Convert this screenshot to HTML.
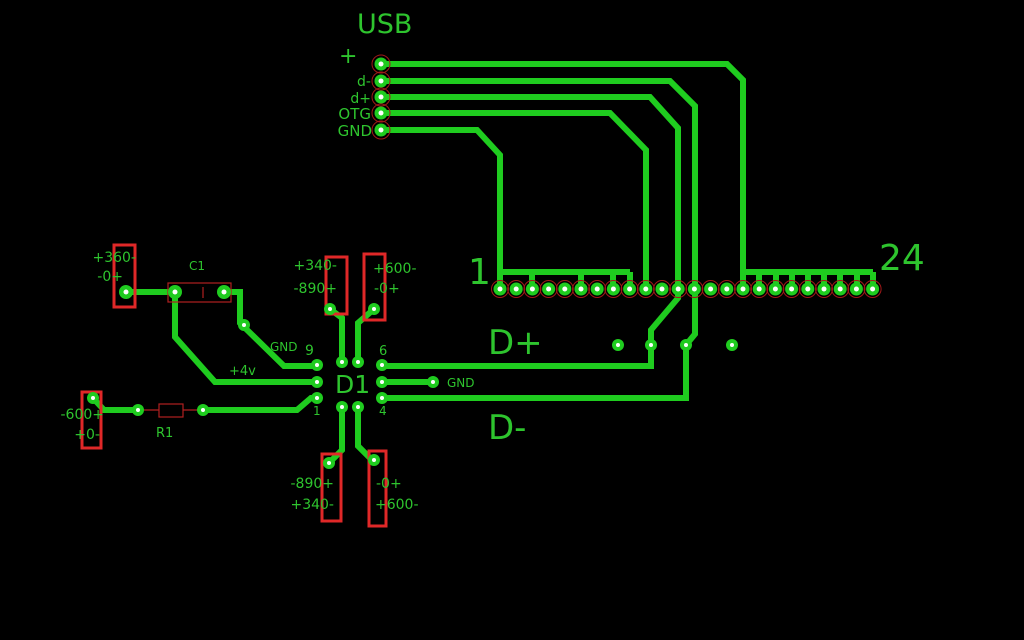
<!DOCTYPE html>
<html><head><meta charset="utf-8"><style>
html,body{margin:0;padding:0;background:#000;width:1024px;height:640px;overflow:hidden}
svg{display:block}
text{font-family:"DejaVu Sans","Liberation Sans",sans-serif;fill:#2ec42e}
</style></head><body>
<svg width="1024" height="640" viewBox="0 0 1024 640" xmlns="http://www.w3.org/2000/svg">
<rect width="1024" height="640" fill="#000"/>
<g fill="none" stroke="#1fcc1f" stroke-width="6" stroke-linejoin="miter" stroke-linecap="butt">
<!-- USB traces -->
<polyline points="381,64 727,64 743,80 743,272"/>
<polyline points="381,81 670,81 695,106 695,334 686,345 686,398 381,398"/>
<polyline points="381,97 650,97 678,128 678,298 651,330 651,366 381,366"/>
<polyline points="381,113 610,113 646,150 646,289"/>
<polyline points="381,130 477,130 500,155 500,272"/>
<!-- buses -->
<polyline points="500,272 630,272"/>
<polyline points="743,272 873,272"/>
<path d="M500,272V289M532,272V289M581,272V289M613,272V289M630,272V289"/>
<path d="M743,272V289M759,272V289M776,272V289M792,272V289M808,272V289M824,272V289M840,272V289M857,272V289M873,272V289"/>
<!-- left circuit -->
<polyline points="126,292 175,292"/>
<polyline points="224,292 240,292 240,323 284,366 317,366"/>
<polyline points="175,292 175,337 215,382 317,382"/>
<polyline points="93,398 104,410 138,410"/>
<polyline points="203,410 297,410 311,398 317,398"/>
<polyline points="330,309 342,318 342,362"/>
<polyline points="374,309 358,323 358,362"/>
<polyline points="342,407 342,450 329,463"/>
<polyline points="358,407 358,446 372,460"/>
<polyline points="381,382 433,382"/>
</g>
<!-- component outlines -->
<g fill="none" stroke="#b02020" stroke-width="1.2">
<rect x="168" y="283" width="63" height="19"/>
<line x1="203" y1="287" x2="203" y2="298"/>
<rect x="159" y="404" width="24" height="13"/>
<line x1="138" y1="410" x2="159" y2="410"/><line x1="183" y1="410" x2="203" y2="410"/>
</g>
<g fill="none" stroke="#e02828" stroke-width="3">
<rect x="114" y="245" width="21" height="62"/>
<rect x="82" y="392" width="19" height="56"/>
<rect x="326" y="257" width="21" height="57"/>
<rect x="364" y="254" width="21" height="66"/>
<rect x="322" y="454" width="19" height="67"/>
<rect x="369" y="451" width="17" height="75"/>
</g>
<!-- red rings for USB and header -->
<g fill="none" stroke="#a01818" stroke-width="1">
<circle cx="381" cy="64" r="9"/><circle cx="381" cy="81" r="9"/><circle cx="381" cy="97" r="9"/><circle cx="381" cy="113" r="9"/><circle cx="381" cy="130" r="9"/>
</g>
<g id="hdr"></g>
<g fill="#1fcc1f">
<circle cx="381" cy="64" r="6.5"/><circle cx="381" cy="81" r="6.5"/><circle cx="381" cy="97" r="6.5"/><circle cx="381" cy="113" r="6.5"/><circle cx="381" cy="130" r="6.5"/>
<circle cx="126" cy="292" r="7"/><circle cx="175" cy="292" r="7"/><circle cx="224" cy="292" r="7"/><circle cx="244" cy="325" r="6"/>
<circle cx="93" cy="398" r="6"/><circle cx="138" cy="410" r="6"/><circle cx="203" cy="410" r="6"/>
<circle cx="317" cy="365" r="6"/><circle cx="317" cy="382" r="6"/><circle cx="317" cy="398" r="6"/>
<circle cx="382" cy="365" r="6"/><circle cx="382" cy="382" r="6"/><circle cx="382" cy="398" r="6"/>
<circle cx="342" cy="362" r="6"/><circle cx="358" cy="362" r="6"/><circle cx="342" cy="407" r="6"/><circle cx="358" cy="407" r="6"/>
<circle cx="330" cy="309" r="6"/><circle cx="374" cy="309" r="6"/><circle cx="329" cy="463" r="6"/><circle cx="374" cy="460" r="6"/>
<circle cx="433" cy="382" r="6"/>
<circle cx="618" cy="345" r="6"/><circle cx="651" cy="345" r="6"/><circle cx="686" cy="345" r="6"/><circle cx="732" cy="345" r="6"/>
</g>
<g fill="#fff">
<circle cx="381" cy="64" r="2.5"/><circle cx="381" cy="81" r="2.5"/><circle cx="381" cy="97" r="2.5"/><circle cx="381" cy="113" r="2.5"/><circle cx="381" cy="130" r="2.5"/>
<circle cx="126" cy="292" r="2.5"/><circle cx="175" cy="292" r="2.5"/><circle cx="224" cy="292" r="2.5"/><circle cx="244" cy="325" r="2"/>
<circle cx="93" cy="398" r="2"/><circle cx="138" cy="410" r="2"/><circle cx="203" cy="410" r="2"/>
<circle cx="317" cy="365" r="2"/><circle cx="317" cy="382" r="2"/><circle cx="317" cy="398" r="2"/>
<circle cx="382" cy="365" r="2"/><circle cx="382" cy="382" r="2"/><circle cx="382" cy="398" r="2"/>
<circle cx="342" cy="362" r="2"/><circle cx="358" cy="362" r="2"/><circle cx="342" cy="407" r="2"/><circle cx="358" cy="407" r="2"/>
<circle cx="330" cy="309" r="2"/><circle cx="374" cy="309" r="2"/><circle cx="329" cy="463" r="2"/><circle cx="374" cy="460" r="2"/>
<circle cx="433" cy="382" r="2"/>
<circle cx="618" cy="345" r="2"/><circle cx="651" cy="345" r="2"/><circle cx="686" cy="345" r="2"/><circle cx="732" cy="345" r="2"/>
</g>
<!-- header pins -->
<g>
<g transform="translate(500,289)"><circle r="8.5" fill="none" stroke="#a01818"/><circle r="6.5" fill="#1fcc1f"/><circle r="2.5" fill="#fff"/></g>
<g transform="translate(516.2,289)"><circle r="8.5" fill="none" stroke="#a01818"/><circle r="6.5" fill="#1fcc1f"/><circle r="2.5" fill="#fff"/></g>
<g transform="translate(532.4,289)"><circle r="8.5" fill="none" stroke="#a01818"/><circle r="6.5" fill="#1fcc1f"/><circle r="2.5" fill="#fff"/></g>
<g transform="translate(548.6,289)"><circle r="8.5" fill="none" stroke="#a01818"/><circle r="6.5" fill="#1fcc1f"/><circle r="2.5" fill="#fff"/></g>
<g transform="translate(564.8,289)"><circle r="8.5" fill="none" stroke="#a01818"/><circle r="6.5" fill="#1fcc1f"/><circle r="2.5" fill="#fff"/></g>
<g transform="translate(581,289)"><circle r="8.5" fill="none" stroke="#a01818"/><circle r="6.5" fill="#1fcc1f"/><circle r="2.5" fill="#fff"/></g>
<g transform="translate(597.2,289)"><circle r="8.5" fill="none" stroke="#a01818"/><circle r="6.5" fill="#1fcc1f"/><circle r="2.5" fill="#fff"/></g>
<g transform="translate(613.4,289)"><circle r="8.5" fill="none" stroke="#a01818"/><circle r="6.5" fill="#1fcc1f"/><circle r="2.5" fill="#fff"/></g>
<g transform="translate(629.6,289)"><circle r="8.5" fill="none" stroke="#a01818"/><circle r="6.5" fill="#1fcc1f"/><circle r="2.5" fill="#fff"/></g>
<g transform="translate(645.8,289)"><circle r="8.5" fill="none" stroke="#a01818"/><circle r="6.5" fill="#1fcc1f"/><circle r="2.5" fill="#fff"/></g>
<g transform="translate(662,289)"><circle r="8.5" fill="none" stroke="#a01818"/><circle r="6.5" fill="#1fcc1f"/><circle r="2.5" fill="#fff"/></g>
<g transform="translate(678.2,289)"><circle r="8.5" fill="none" stroke="#a01818"/><circle r="6.5" fill="#1fcc1f"/><circle r="2.5" fill="#fff"/></g>
<g transform="translate(694.4,289)"><circle r="8.5" fill="none" stroke="#a01818"/><circle r="6.5" fill="#1fcc1f"/><circle r="2.5" fill="#fff"/></g>
<g transform="translate(710.6,289)"><circle r="8.5" fill="none" stroke="#a01818"/><circle r="6.5" fill="#1fcc1f"/><circle r="2.5" fill="#fff"/></g>
<g transform="translate(726.8,289)"><circle r="8.5" fill="none" stroke="#a01818"/><circle r="6.5" fill="#1fcc1f"/><circle r="2.5" fill="#fff"/></g>
<g transform="translate(743,289)"><circle r="8.5" fill="none" stroke="#a01818"/><circle r="6.5" fill="#1fcc1f"/><circle r="2.5" fill="#fff"/></g>
<g transform="translate(759.2,289)"><circle r="8.5" fill="none" stroke="#a01818"/><circle r="6.5" fill="#1fcc1f"/><circle r="2.5" fill="#fff"/></g>
<g transform="translate(775.4,289)"><circle r="8.5" fill="none" stroke="#a01818"/><circle r="6.5" fill="#1fcc1f"/><circle r="2.5" fill="#fff"/></g>
<g transform="translate(791.6,289)"><circle r="8.5" fill="none" stroke="#a01818"/><circle r="6.5" fill="#1fcc1f"/><circle r="2.5" fill="#fff"/></g>
<g transform="translate(807.8,289)"><circle r="8.5" fill="none" stroke="#a01818"/><circle r="6.5" fill="#1fcc1f"/><circle r="2.5" fill="#fff"/></g>
<g transform="translate(824,289)"><circle r="8.5" fill="none" stroke="#a01818"/><circle r="6.5" fill="#1fcc1f"/><circle r="2.5" fill="#fff"/></g>
<g transform="translate(840.2,289)"><circle r="8.5" fill="none" stroke="#a01818"/><circle r="6.5" fill="#1fcc1f"/><circle r="2.5" fill="#fff"/></g>
<g transform="translate(856.4,289)"><circle r="8.5" fill="none" stroke="#a01818"/><circle r="6.5" fill="#1fcc1f"/><circle r="2.5" fill="#fff"/></g>
<g transform="translate(872.6,289)"><circle r="8.5" fill="none" stroke="#a01818"/><circle r="6.5" fill="#1fcc1f"/><circle r="2.5" fill="#fff"/></g>
</g>
<!-- labels -->
<text x="357" y="33" font-size="27">USB</text>
<text x="339" y="63" font-size="22">+</text>
<text x="371" y="86" font-size="14" text-anchor="end">d-</text>
<text x="371" y="103" font-size="14" text-anchor="end">d+</text>
<text x="371" y="119" font-size="15" text-anchor="end">OTG</text>
<text x="372" y="136" font-size="15" text-anchor="end">GND</text>
<text x="468" y="284" font-size="36">1</text>
<text x="879" y="270" font-size="36">24</text>
<text x="488" y="354" font-size="34">D+</text>
<text x="488" y="439" font-size="34">D-</text>
<text x="335" y="393" font-size="25">D1</text>
<text x="136" y="262" font-size="14" text-anchor="end">+360-</text>
<text x="123" y="281" font-size="14" text-anchor="end">-0+</text>
<text x="189" y="270" font-size="12">C1</text>
<text x="270" y="351" font-size="12">GND</text>
<text x="305" y="355" font-size="14">9</text>
<text x="229" y="375" font-size="13">+4v</text>
<text x="104" y="419" font-size="14" text-anchor="end">-600+</text>
<text x="100" y="439" font-size="14" text-anchor="end">+0-</text>
<text x="156" y="437" font-size="13">R1</text>
<text x="313" y="415" font-size="12">1</text>
<text x="379" y="355" font-size="13">6</text>
<text x="379" y="415" font-size="12">4</text>
<text x="447" y="387" font-size="12">GND</text>
<text x="337" y="270" font-size="14" text-anchor="end">+340-</text>
<text x="337" y="293" font-size="14" text-anchor="end">-890+</text>
<text x="373" y="273" font-size="14">+600-</text>
<text x="374" y="293" font-size="14">-0+</text>
<text x="334" y="488" font-size="14" text-anchor="end">-890+</text>
<text x="334" y="509" font-size="14" text-anchor="end">+340-</text>
<text x="376" y="488" font-size="14">-0+</text>
<text x="375" y="509" font-size="14">+600-</text>
</svg>
</body></html>
